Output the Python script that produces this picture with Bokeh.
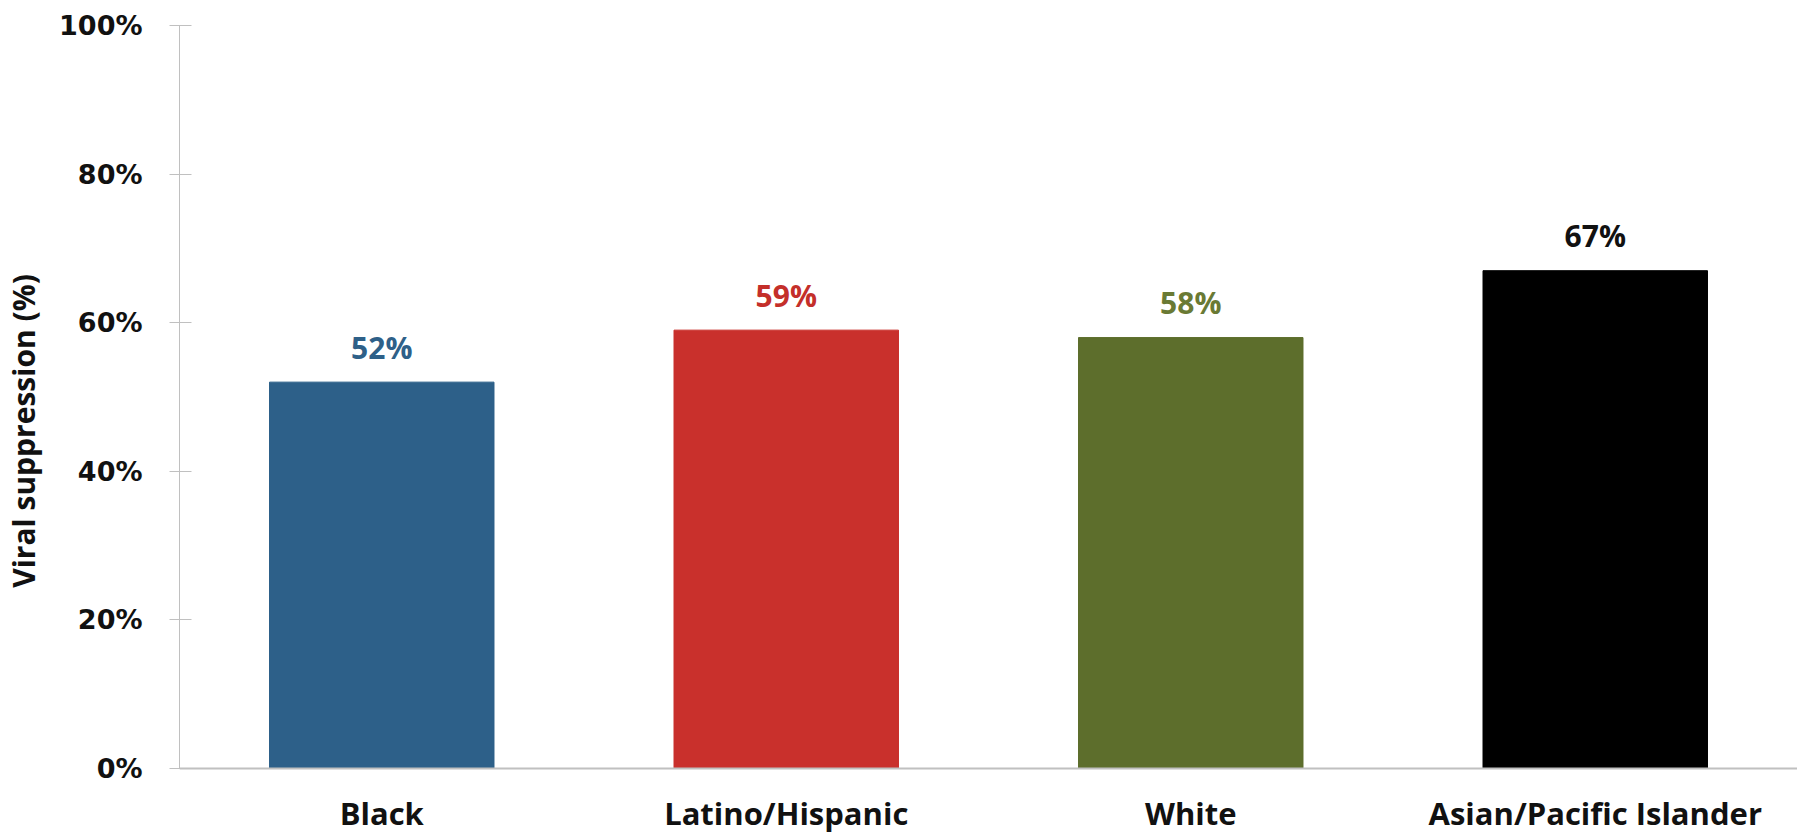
from bokeh.plotting import figure
from bokeh.models import ColumnDataSource, Range1d, NumeralTickFormatter, FixedTicker, LabelSet, Span
from bokeh.embed import file_html
from bokeh.resources import INLINE
from bokeh.core.properties import value

categories = ["Black", "Latino/Hispanic", "White", "Asian/Pacific Islander"]
values = [0.52, 0.59, 0.58, 0.67]
labels = ["52%", "59%", "58%", "67%"]
bar_colors = ["#2d6089", "#c9302c", "#5d6e2c", "#000000"]
label_colors = ["#2e6088", "#c42f2a", "#6a7a34", "#111111"]
y_ticks = [0, 0.2, 0.4, 0.6, 0.8, 1.0]

src = ColumnDataSource(dict(cat=categories, val=values, lab=labels,
                            color=bar_colors, lcolor=label_colors,
                            base=[0] * len(categories)))

# frame spans 25..836 px; 0..1 occupies 25..768 px, the rest holds category names
p = figure(x_range=categories, y_range=Range1d(-68 / 743, 1.0), width=1797, height=836,
           output_backend="svg", toolbar_location=None,
           min_border_left=175, min_border_right=0, min_border_top=25, min_border_bottom=0)
p.background_fill_color = "white"
p.border_fill_color = "white"
p.outline_line_color = None
p.xgrid.grid_line_color = None
p.ygrid.grid_line_color = None
p.xaxis.visible = False

p.vbar(x="cat", top="val", width=0.555, color="color", source=src)

p.add_layout(Span(location=0, dimension="width", line_color="#c0c0c0", line_width=2))

ls = LabelSet(x="cat", y="val", text="lab", source=src, text_color="lcolor",
              text_align="center", text_baseline="middle", y_offset=35,
              text_font=value("Open Sans"), text_font_style="bold", text_font_size="30px")
p.add_layout(ls)

p.text(x="cat", y="base", text="cat", source=src, text_color="#111111",
       text_align="center", text_baseline="middle", y_offset=44,
       text_font=value("Open Sans"), text_font_style="bold", text_font_size="31px")

ya = p.yaxis[0]
ya.bounds = (0, 1)
ya.ticker = FixedTicker(ticks=y_ticks)
ya.formatter = NumeralTickFormatter(format="0%")
ya.axis_line_color = "#c0c0c0"
ya.major_tick_line_color = "#c0c0c0"
ya.minor_tick_line_color = None
ya.major_tick_in = 12
ya.major_tick_out = 10
ya.major_label_standoff = 27
ya.major_label_text_font = "DejaVu Sans"
ya.major_label_text_font_style = "bold"
ya.major_label_text_font_size = "27px"
ya.major_label_text_color = "#111111"
ya.axis_label = "Viral suppression (%)"
ya.axis_label_text_font = "Open Sans"
ya.axis_label_text_font_style = "bold"
ya.axis_label_text_font_size = "30px"
ya.axis_label_text_color = "#111111"
ya.axis_label_standoff = 12

open("out.html", "w").write(file_html(p, INLINE))
